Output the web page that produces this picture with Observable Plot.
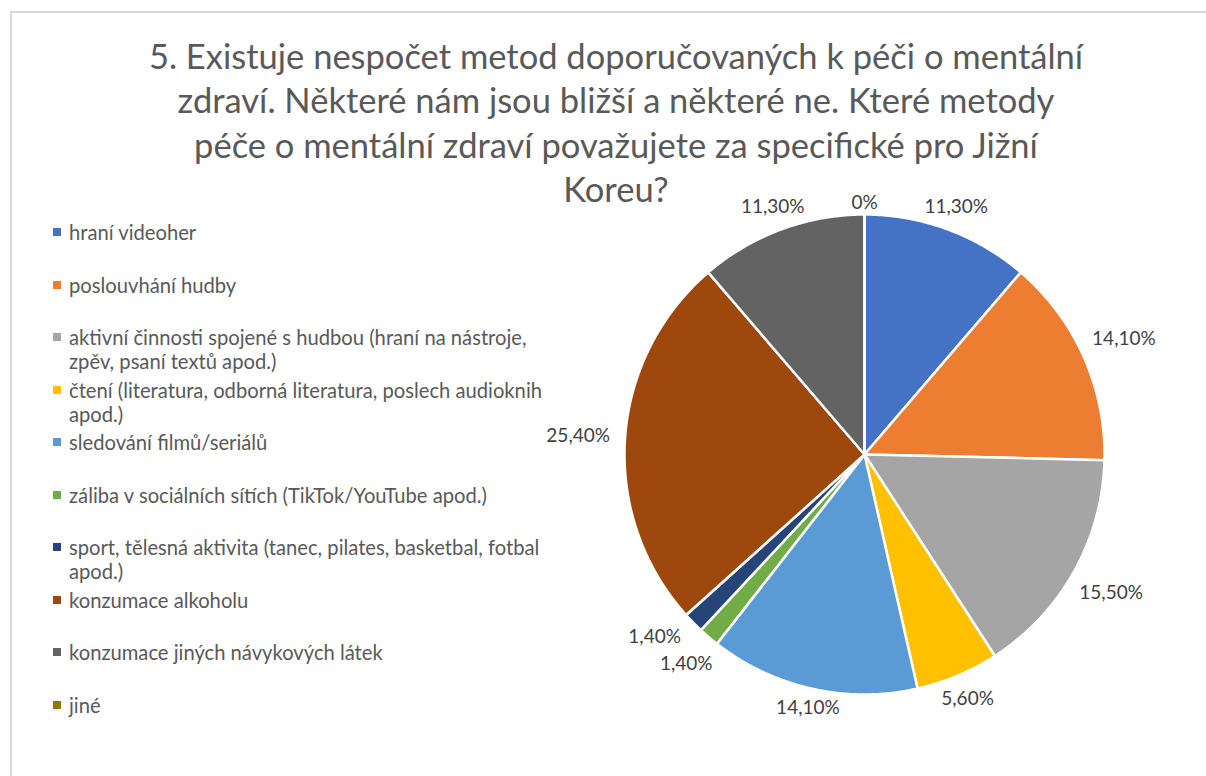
<!DOCTYPE html>
<html><head><meta charset="utf-8">
<script src="https://cdn.jsdelivr.net/npm/d3@7"></script>
<script src="https://cdn.jsdelivr.net/npm/@observablehq/plot@0.6"></script>
<style>
html,body{margin:0;padding:0;background:#fff;}
#wrap{position:relative;width:1206px;height:776px;overflow:hidden;font-family:Lato,"Open Sans",sans-serif;}
#frame{position:absolute;left:10px;top:11px;width:1300px;height:800px;border-left:2px solid #d9d9d9;border-top:2px solid #d9d9d9;}
#title{position:absolute;left:0;top:34px;width:1232px;text-align:center;font-size:34.5px;line-height:44.3px;color:#595959;z-index:2;}
#legend{position:absolute;left:0;top:0;z-index:2;}
.item{position:absolute;left:69px;font-size:20.2px;line-height:24px;color:#595959;white-space:nowrap;}
.sw{position:absolute;left:-16px;top:8px;width:8px;height:8px;}
#pie{position:absolute;z-index:1;width:700px;height:700px;}
#pie svg{max-width:none !important;}
</style></head>
<body><div id="wrap"><div id="frame"></div><div id="title"></div><div id="legend"></div><div id="pie"></div></div>
<script>
const titleLines = [
  "5. Existuje nespočet metod doporučovaných k péči o mentální",
  "zdraví. Některé nám jsou bližší a některé ne. Které metody",
  "péče o mentální zdraví považujete za specifické pro Jižní",
  "Koreu?"
];
const categories = [
  "hraní videoher",
  "poslouvhání hudby",
  "aktivní činnosti spojené s hudbou (hraní na nástroje, zpěv, psaní textů apod.)",
  "čtení (literatura, odborná literatura, poslech audioknih apod.)",
  "sledování filmů/seriálů",
  "záliba v sociálních sítích (TikTok/YouTube apod.)",
  "sport, tělesná aktivita (tanec, pilates, basketbal, fotbal apod.)",
  "konzumace alkoholu",
  "konzumace jiných návykových látek",
  "jiné"
];
// legend line breaks as in the reference
const legendLines = [
  ["hraní videoher"],
  ["poslouvhání hudby"],
  ["aktivní činnosti spojené s hudbou (hraní na nástroje,", "zpěv, psaní textů apod.)"],
  ["čtení (literatura, odborná literatura, poslech audioknih", "apod.)"],
  ["sledování filmů/seriálů"],
  ["záliba v sociálních sítích (TikTok/YouTube apod.)"],
  ["sport, tělesná aktivita (tanec, pilates, basketbal, fotbal", "apod.)"],
  ["konzumace alkoholu"],
  ["konzumace jiných návykových látek"],
  ["jiné"]
];
const values = [11.3, 14.1, 15.5, 5.6, 14.1, 1.4, 1.4, 25.4, 11.3, 0];
const labels = ["11,30%", "14,10%", "15,50%", "5,60%", "14,10%", "1,40%", "1,40%", "25,40%", "11,30%", "0%"];
const colors = ["#4472C4", "#ED7D31", "#A5A5A5", "#FFC000", "#5B9BD5", "#70AD47", "#264478", "#9E480E", "#636363", "#997300"];

// title
document.getElementById("title").innerHTML = titleLines.map(s => `<div>${s}</div>`).join("");

// legend
const leg = document.getElementById("legend");
legendLines.forEach((lines, i) => {
  const d = document.createElement("div");
  d.className = "item";
  d.style.top = (232 + i * 52.5 - 12) + "px";
  d.innerHTML = `<span class="sw" style="background:${colors[i]}"></span>` + lines.join("<br>");
  leg.appendChild(d);
});

// pie geometry (in unit-circle data space)
const arcs = d3.pie().sort(null).value(d => d)(values);
const pts = [];
arcs.forEach((a, i) => {
  const n = Math.max(2, Math.ceil((a.endAngle - a.startAngle) / 0.01));
  pts.push({cat: categories[i], x: 0, y: 0});
  for (let k = 0; k <= n; k++) {
    const t = a.startAngle + (a.endAngle - a.startAngle) * k / n;
    pts.push({cat: categories[i], x: Math.sin(t), y: Math.cos(t)});
  }
  pts.push({cat: categories[i], x: 0, y: 0});
});
const R = 240; // px radius
const W = 700;
const k = (W / 2) / R;
// outside-end labels with simple collision avoidance (pixel space relative to centre)
const placed = [];
const labelData = arcs.map((a, i) => {
  let m = (a.startAngle + a.endAngle) / 2;
  const w = labels[i].length * 10.5, h = 26;
  const pos = mm => {
    const s = Math.sin(mm), c = Math.cos(mm);
    const r = R + 12 + 35 * Math.abs(s);
    return {x: s * r, y: -c * r};
  };
  const hit = p => placed.some(q => Math.abs(q.x - p.x) < (q.w + w) / 2 && Math.abs(q.y - p.y) < h);
  let p = pos(m);
  let guard = 0;
  while (hit(p) && guard++ < 200) { m += 0.005; p = pos(m); }
  placed.push({x: p.x, y: p.y, w});
  return {x: p.x / R, y: -p.y / R, text: labels[i]};
});
const chart = Plot.plot({
  width: W, height: W,
  margin: 0,
  style: {maxWidth: "none"},
  x: {domain: [-k, k], axis: null},
  y: {domain: [-k, k], axis: null},
  color: {domain: categories, range: colors},
  marks: [
    Plot.line(pts, {x: "x", y: "y", z: "cat", fill: "cat", stroke: "white", strokeWidth: 2.5, curve: "linear-closed"}),
    Plot.text(labelData, {x: "x", y: "y", text: "text", fill: "#404040", fontSize: 19, fontFamily: "Lato"})
  ]
});
const pie = document.getElementById("pie");
pie.style.left = (864 - W / 2) + "px";
pie.style.top = (454 - W / 2) + "px";
pie.appendChild(chart);
</script></body></html>
